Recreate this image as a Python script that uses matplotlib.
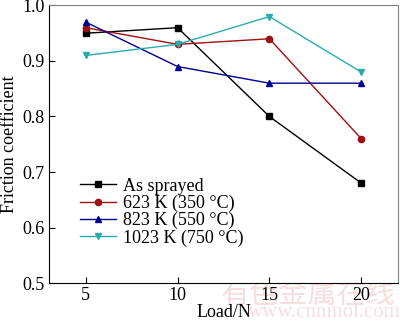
import matplotlib
matplotlib.use("Agg")
import matplotlib.pyplot as plt

# load steps and measured friction coefficients
loads = [5, 10, 15, 20]
as_sprayed = [0.95, 0.96, 0.80, 0.68]
k623 = [0.96, 0.93, 0.94, 0.76]
k823 = [0.97, 0.89, 0.86, 0.86]
k1023 = [0.91, 0.93, 0.98, 0.88]
labels = ["As sprayed", "623 K (350 \u00b0C)", "823 K (550 \u00b0C)", "1023 K (750 \u00b0C)"]

plt.rcParams['font.family'] = ['Liberation Serif', 'DejaVu Serif']
plt.rcParams['font.size'] = 13

fig = plt.figure(figsize=(4.0, 3.22), dpi=100)
ax = fig.add_axes([0.1225, 0.121, 0.8725, 0.862])

series = [
    (as_sprayed, '#000000', 's'),
    (k623, '#a01010', 'o'),
    (k823, '#000090', '^'),
    (k1023, '#2aabab', 'v'),
]
for (vals, col, mk), lab in zip(series, labels):
    ax.plot(loads, vals, color=col, marker=mk, markersize=4.5, lw=1.0, label=lab)

ax.set_xlim(3, 22)
ax.set_ylim(0.5, 1.0)
ax.set_xticks(loads)
ax.set_yticks([0.5, 0.6, 0.7, 0.8, 0.9, 1.0])
ax.tick_params(direction='in', length=4, width=0.8, labelsize=13, pad=3)
ax.set_xlabel("Load/N", fontsize=13, labelpad=0)
ax.set_ylabel("Friction coefficient", fontsize=13, labelpad=3)
for side in ['top', 'right']:
    ax.spines[side].set_color('#808080')

ax.legend(loc='lower left', bbox_to_anchor=(0.068, 0.105), frameon=False,
          fontsize=13, handlelength=2.0, handletextpad=0.4,
          labelspacing=0.0, borderaxespad=0)

# watermark
fig.text(0.77, 0.085, "有色金属在线", fontsize=21, color='#f7dede',
         family=['Noto Sans CJK SC'], ha='center', va='center', zorder=-1)
fig.text(0.81, 0.028, "www.cnnmol.com", fontsize=15, color='#f7dede',
         ha='center', va='center', zorder=-1)

fig.savefig("out.png", dpi=100)
